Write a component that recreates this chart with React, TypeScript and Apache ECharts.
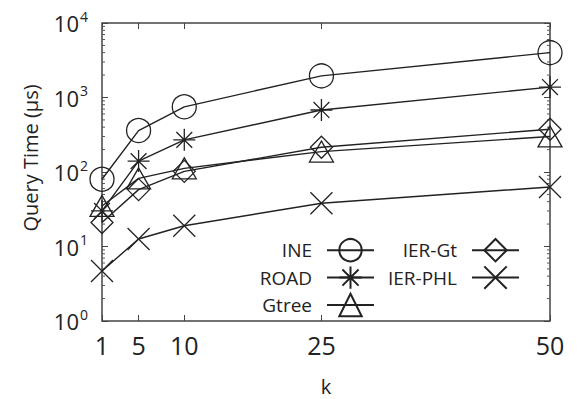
import React, { useEffect, useRef } from "react";
import * as echarts from "echarts";

const K_VALUES = [1, 5, 10, 25, 50];
const INE = [80, 360, 750, 1950, 4000];
const ROAD = [30, 140, 270, 680, 1380];
const GTREE = [35, 82, 112, 188, 300];
const IER_GT = [21, 58, 102, 215, 375];
const IER_PHL = [4.7, 12.6, 19, 38, 63];
const MINOR_TICKS = [
  2, 3, 4, 5, 6, 7, 8, 9,
  20, 30, 40, 50, 60, 70, 80, 90,
  200, 300, 400, 500, 600, 700, 800, 900,
  2000, 3000, 4000, 5000, 6000, 7000, 8000, 9000,
];

const FONT = "Open Sans";
const INK = "#222";

const SYM_ASTERISK = "path://M0,-1L0,1M-1,0L1,0M-0.72,-0.72L0.72,0.72M-0.72,0.72L0.72,-0.72";
const SYM_X = "path://M-1,-1L1,1M-1,1L1,-1";
const SYM_DIAMOND = "path://M0,-1L1,0L0,1L-1,0Z";

function pairs(ys: number[]) {
  return K_VALUES.map((k, i) => [k, ys[i]]);
}

export default function App() {
  const ref = useRef<HTMLDivElement>(null);
  useEffect(() => {
    if (!ref.current) return;
    const chart = echarts.init(ref.current, undefined, { renderer: "svg" });
    const mk = (name: string, ys: number[], symbol: string, size: any) => ({
      name,
      type: "line",
      data: pairs(ys),
      symbol,
      symbolSize: size,
      showAllSymbol: true,
      lineStyle: { color: INK, width: 1.4 },
      itemStyle: { color: "transparent", borderColor: INK, borderWidth: 1.3 },
      emphasis: { disabled: true },
      z: 3,
    });
    const legendCommon = {
      orient: "vertical",
      align: "right",
      padding: 0,
      itemWidth: 47,
      itemHeight: 28,
      itemGap: 3,
      selectedMode: false,
      textStyle: {
        fontFamily: FONT,
        fontSize: 19,
        lineHeight: 20,
        color: INK,
        padding: [0, 10, 0, 0],
      },
    };
    chart.setOption({
      animation: false,
      grid: {
        left: 102,
        top: 23,
        right: 29,
        bottom: 78,
        show: true,
        borderColor: "#444",
        borderWidth: 1.5,
        containLabel: false,
        outerBoundsMode: "none",
      },
      legend: [
        { ...legendCommon, data: ["INE", "ROAD", "Gtree"], right: 204, top: 238 },
        { ...legendCommon, data: ["IER-Gt", "IER-PHL"], right: 59, top: 238 },
      ],
      xAxis: [
        {
          type: "value",
          min: 1,
          max: 50,
          name: "k",
          nameLocation: "middle",
          nameGap: 55,
          nameTextStyle: { fontFamily: FONT, fontSize: 20, lineHeight: 20, color: INK },
          axisLine: { show: false },
          splitLine: { show: false },
          axisTick: {
            inside: true,
            length: 6,
            customValues: K_VALUES,
            lineStyle: { color: "#444" },
          },
          axisLabel: {
            customValues: K_VALUES,
            fontFamily: FONT,
            fontSize: 25,
            color: INK,
            margin: 11,
          },
        },
        {
          type: "value",
          min: 1,
          max: 50,
          position: "top",
          axisLine: { show: false },
          splitLine: { show: false },
          axisTick: {
            inside: true,
            length: 6,
            customValues: K_VALUES,
            lineStyle: { color: "#444" },
          },
          axisLabel: { show: false },
        },
      ],
      yAxis: [
        {
          type: "log",
          logBase: 10,
          min: 1,
          max: 10000,
          name: "Query Time (µs)",
          nameLocation: "middle",
          nameGap: 62,
          nameTextStyle: {
            fontFamily: FONT,
            fontSize: 20,
            color: INK,
            padding: [0, 0, 0, 28],
          },
          axisLine: { show: false },
          splitLine: { show: false },
          axisTick: { inside: true, length: 6, lineStyle: { color: "#444" } },
          axisLabel: {
            margin: 14,
            formatter: (v: number) => `{b|10}{s|${Math.round(Math.log10(v))}}`,
            rich: {
              b: { fontFamily: FONT, fontSize: 22, color: INK },
              s: { fontFamily: FONT, fontSize: 14, color: INK, padding: [0, 0, 14, 1] },
            },
          },
        },
        {
          type: "log",
          logBase: 10,
          min: 1,
          max: 10000,
          position: "right",
          axisLine: { show: false },
          splitLine: { show: false },
          axisTick: { inside: true, length: 6, lineStyle: { color: "#444" } },
          axisLabel: { show: false },
        },
      ],
      series: [
        mk("INE", INE, "circle", 24),
        mk("ROAD", ROAD, SYM_ASTERISK, 22),
        mk("Gtree", GTREE, "triangle", [24, 21]),
        mk("IER-Gt", IER_GT, SYM_DIAMOND, 22),
        mk("IER-PHL", IER_PHL, SYM_X, 22),
        {
          name: "minorTicks",
          type: "custom",
          silent: true,
          clip: false,
          data: MINOR_TICKS.map((v) => [1, v]),
          encode: { x: 0, y: 1 },
          renderItem: (_params: any, api: any) => {
            const v = api.value(1);
            const pL = api.coord([1, v]);
            const pR = api.coord([50, v]);
            const st = { stroke: "#555", lineWidth: 1 };
            return {
              type: "group",
              children: [
                { type: "line", shape: { x1: pL[0], y1: pL[1], x2: pL[0] + 3, y2: pL[1] }, style: st },
                { type: "line", shape: { x1: pR[0], y1: pR[1], x2: pR[0] - 3, y2: pR[1] }, style: st },
              ],
            };
          },
        },
      ],
    });
    return () => chart.dispose();
  }, []);
  return (
    <div
      ref={ref}
      style={{ position: "fixed", left: 0, top: 0, width: 579, height: 399, background: "#fff" }}
    />
  );
}
